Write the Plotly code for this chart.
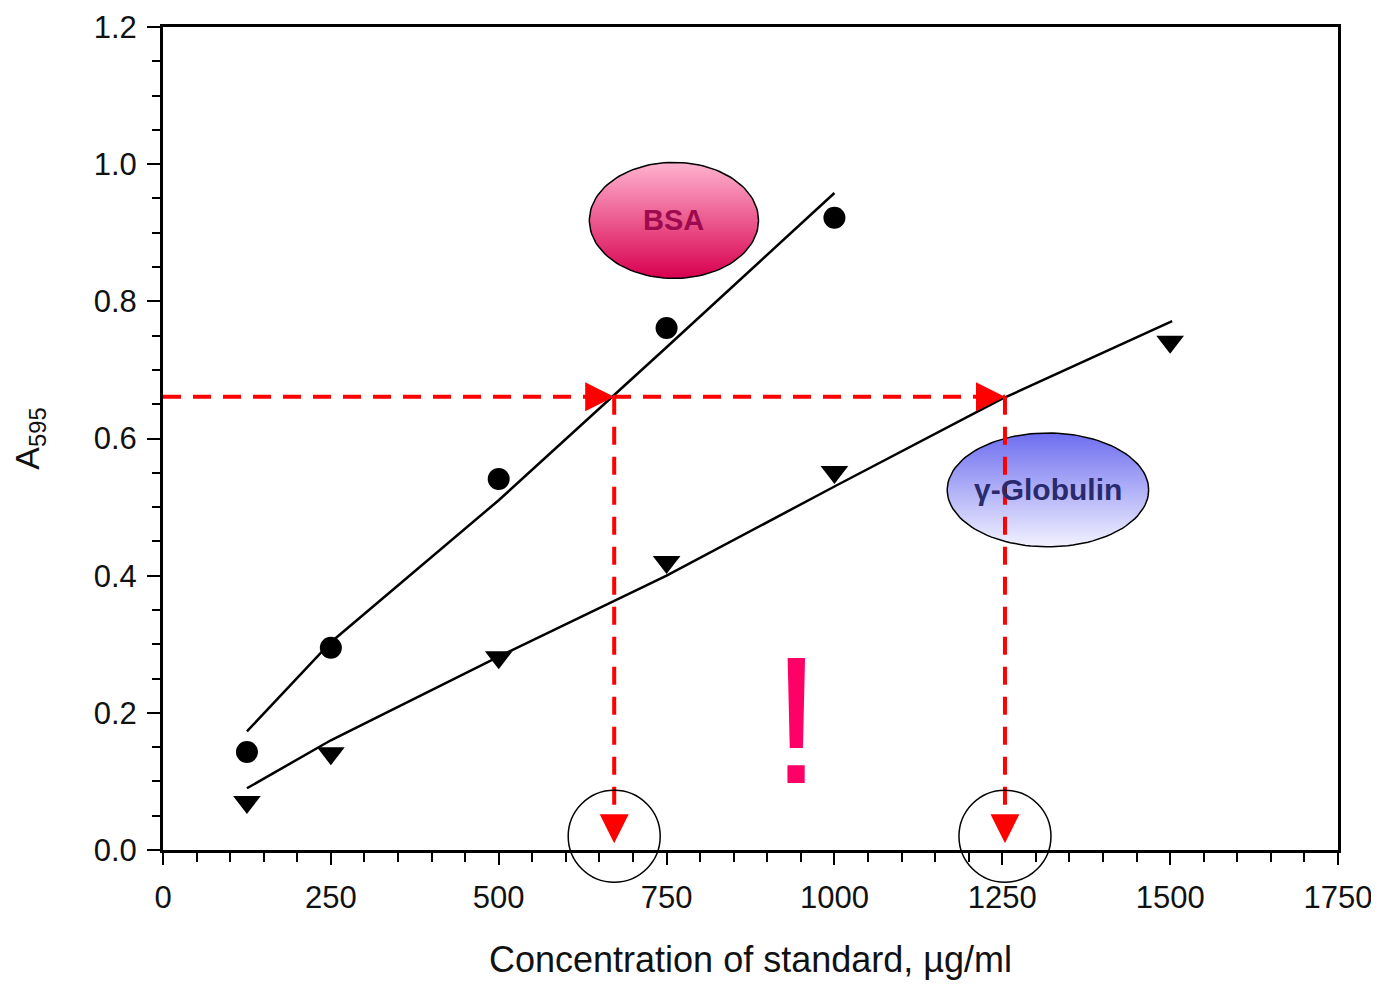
import numpy as np
import plotly.graph_objects as go

# ---- data ----
conc_bsa = [125, 250, 500, 750, 1000]
a595_bsa = [0.143, 0.295, 0.541, 0.761, 0.922]
conc_glob = [125, 250, 500, 750, 1000, 1500]
a595_glob = [0.070, 0.141, 0.281, 0.420, 0.551, 0.741]

fit_x_bsa = [125, 250, 500, 750, 1000]
fit_y_bsa = [0.173, 0.303, 0.510, 0.733, 0.958]
fit_x_glob = [125, 250, 500, 750, 1000, 1250, 1503]
fit_y_glob = [0.090, 0.160, 0.282, 0.400, 0.530, 0.658, 0.771]

sample_a595 = 0.661
read_conc = [672, 1254]          # BSA, gamma-globulin read-offs
x_ticks = [0, 250, 500, 750, 1000, 1250, 1500, 1750]

FONT = "Liberation Sans, Arial, sans-serif"
RED = "#ff0000"


def ellipse(cx, cy, rx, ry, n=120):
    t = np.linspace(0, 2 * np.pi, n)
    return cx + rx * np.cos(t), cy + ry * np.sin(t)


fig = go.Figure()

# labelled ellipses with vertical gradients
ex, ey = ellipse(761, 0.918, 126, 0.0846)
fig.add_trace(go.Scatter(x=ex, y=ey, mode="lines", fill="toself",
                         fillgradient=dict(type="vertical",
                                           colorscale=[[0, "#d8004f"], [1, "#ffb3cf"]]),
                         line=dict(color="black", width=1.5), hoverinfo="skip"))
gx, gy = ellipse(1318, 0.525, 150, 0.083)
fig.add_trace(go.Scatter(x=gx, y=gy, mode="lines", fill="toself",
                         fillgradient=dict(type="vertical",
                                           colorscale=[[0, "#f2f2ff"], [1, "#6e6ef0"]]),
                         line=dict(color="black", width=1.5), hoverinfo="skip"))

# fit lines
fig.add_trace(go.Scatter(x=fit_x_bsa, y=fit_y_bsa, mode="lines",
                         line=dict(color="black", width=2.5)))
fig.add_trace(go.Scatter(x=fit_x_glob, y=fit_y_glob, mode="lines",
                         line=dict(color="black", width=2.5)))

# data points
fig.add_trace(go.Scatter(x=conc_bsa, y=a595_bsa, mode="markers",
                         marker=dict(symbol="circle", size=22, color="black")))
fig.add_trace(go.Scatter(x=conc_glob, y=a595_glob, mode="markers",
                         marker=dict(symbol="triangle-down", size=24, color="black")))

# red dashed read-off lines
fig.add_trace(go.Scatter(
    x=[0, read_conc[1], None, read_conc[0], read_conc[0], None, read_conc[1], read_conc[1]],
    y=[sample_a595, sample_a595, None, sample_a595, 0.03, None, sample_a595, 0.03],
    mode="lines", line=dict(color=RED, width=4, dash="18px,12px")))

# arrow heads
fig.add_trace(go.Scatter(x=read_conc, y=[sample_a595] * 2, mode="markers",
                         marker=dict(symbol="arrow-right", size=29, color=RED),
                         cliponaxis=False))
fig.add_trace(go.Scatter(x=read_conc, y=[0.01] * 2, mode="markers",
                         marker=dict(symbol="arrow-down", size=29, color=RED),
                         cliponaxis=False))

# circles around read-off concentrations
fig.add_trace(go.Scatter(x=read_conc, y=[0.02] * 2, mode="markers",
                         marker=dict(symbol="circle-open", size=92,
                                     line=dict(color="black", width=1.5), color="black"),
                         cliponaxis=False))

fig.add_annotation(x=761, y=0.918, text="<b>BSA</b>", showarrow=False,
                   font=dict(family=FONT, size=29, color="#9e0a4e"))
fig.add_annotation(x=1318, y=0.525, text="<b>γ-Globulin</b>", showarrow=False,
                   font=dict(family=FONT, size=30, color="#2a2a6e"))
fig.add_annotation(x=943, y=0.19, text="!", showarrow=False,
                   font=dict(family=FONT, size=182, color="#ff0066"))

axis_common = dict(showgrid=False, zeroline=False, showline=True, linecolor="black",
                   linewidth=3, mirror=True, ticks="outside", tickwidth=2,
                   tickcolor="black", automargin=False, ticklabeloverflow="allow",
                   tickfont=dict(family=FONT, size=31, color="#111111"))

fig.update_xaxes(range=[0, 1750], tickvals=x_ticks, ticklen=12,
                 minor=dict(dtick=50, ticklen=9, tickwidth=2, ticks="outside",
                            tickcolor="black"),
                 ticklabelstandoff=6,
                 title=dict(text="Concentration of standard, µg/ml",
                            font=dict(family=FONT, size=36, color="#111111"),
                            standoff=44),
                 **axis_common)
fig.update_yaxes(range=[0, 1.2], dtick=0.2, tickformat=".1f", ticklen=13,
                 minor=dict(dtick=0.05, ticklen=8, tickwidth=2, ticks="outside",
                            tickcolor="black"),
                 ticklabelstandoff=4,
                 title=dict(text="A<sub>595</sub>",
                            font=dict(family=FONT, size=34, color="#111111"),
                            standoff=46),
                 **axis_common)

fig.update_layout(width=1363, height=972, showlegend=False,
                  margin=dict(l=155, r=33, t=19, b=130),
                  plot_bgcolor="white", paper_bgcolor="white")

fig.write_html("out.html")
